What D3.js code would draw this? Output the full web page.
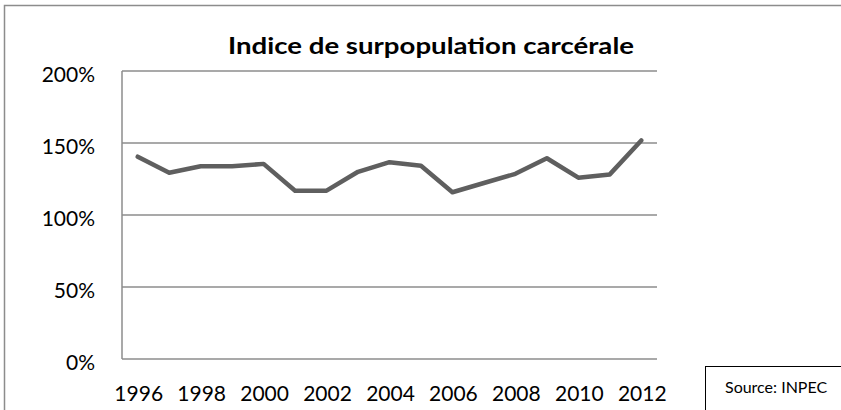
<!DOCTYPE html>
<html>
<head>
<meta charset="utf-8">
<script src="https://cdn.jsdelivr.net/npm/d3@7"></script>
<style>
  html, body { margin: 0; padding: 0; background: #fff; }
  svg { display: block; font-family: Lato, "Open Sans", sans-serif; }
</style>
</head>
<body>
<svg id="chart" width="841" height="410"></svg>
<script>
const years = [1996, 1997, 1998, 1999, 2000, 2001, 2002, 2003, 2004, 2005, 2006, 2007, 2008, 2009, 2010, 2011, 2012];
const values = [140.5, 129.3, 133.8, 133.8, 135.5, 116.9, 116.9, 130, 136.7, 134.2, 115.8, 122.2, 128.6, 139.4, 125.9, 128.2, 151.8];
const yTicks = [0, 50, 100, 150, 200];
const xTickLabels = [1996, 1998, 2000, 2002, 2004, 2006, 2008, 2010, 2012];
const title = "Indice de surpopulation carcérale";
const sourceText = "Source: INPEC";

const svg = d3.select("#chart");

// outer frame (top and left edges visible)
svg.append("path")
  .attr("d", "M4.5,410 L4.5,5.5 L841,5.5")
  .attr("fill", "none")
  .attr("stroke", "#8c8c8c")
  .attr("stroke-width", 1.5);

const plotLeft = 122, plotRight = 657, plotTop = 71, plotBottom = 359;

const x = d3.scalePoint().domain(years).range([plotLeft, plotRight]).padding(0.5);
const y = d3.scaleLinear().domain([0, 200]).range([plotBottom, plotTop]);

// gridlines
svg.append("g").selectAll("line").data(yTicks).join("line")
  .attr("x1", plotLeft).attr("x2", plotRight)
  .attr("y1", d => y(d)).attr("y2", d => y(d))
  .attr("stroke", "#8c8c8c").attr("stroke-width", 1.5);

// vertical axis line
svg.append("line")
  .attr("x1", plotLeft).attr("x2", plotLeft)
  .attr("y1", plotTop).attr("y2", plotBottom)
  .attr("stroke", "#8c8c8c").attr("stroke-width", 1.5);

// y tick labels
svg.append("g").selectAll("text").data(yTicks).join("text")
  .attr("x", 95).attr("y", d => y(d) + 2)
  .attr("text-anchor", "end")
  .attr("dominant-baseline", "central")
  .attr("font-size", 21)
  .attr("fill", "#000")
  .text(d => d + "%");

// x tick labels
svg.append("g").selectAll("text").data(xTickLabels).join("text")
  .attr("x", d => x(d) + 1)
  .attr("y", 401)
  .attr("text-anchor", "middle")
  .attr("font-size", 21)
  .attr("fill", "#000")
  .text(d => d);

// line
const line = d3.line().x((d, i) => x(years[i])).y(d => y(d));
svg.append("path")
  .datum(values)
  .attr("d", line)
  .attr("fill", "none")
  .attr("stroke", "#5f5f5f")
  .attr("stroke-width", 4.5)
  .attr("stroke-linejoin", "round")
  .attr("stroke-linecap", "round");

// title
svg.append("text")
  .attr("x", 431).attr("y", 54)
  .attr("text-anchor", "middle")
  .attr("font-size", 23)
  .attr("font-weight", "bold")
  .attr("fill", "#000")
  .attr("textLength", 406)
  .attr("lengthAdjust", "spacingAndGlyphs")
  .text(title);

// source box
svg.append("rect")
  .attr("x", 705.5).attr("y", 366.5)
  .attr("width", 140).attr("height", 50)
  .attr("fill", "#fff")
  .attr("stroke", "#000")
  .attr("stroke-width", 1);

svg.append("text")
  .attr("x", 725).attr("y", 393)
  .attr("font-size", 16)
  .attr("fill", "#000")
  .text(sourceText);
</script>
</body>
</html>
